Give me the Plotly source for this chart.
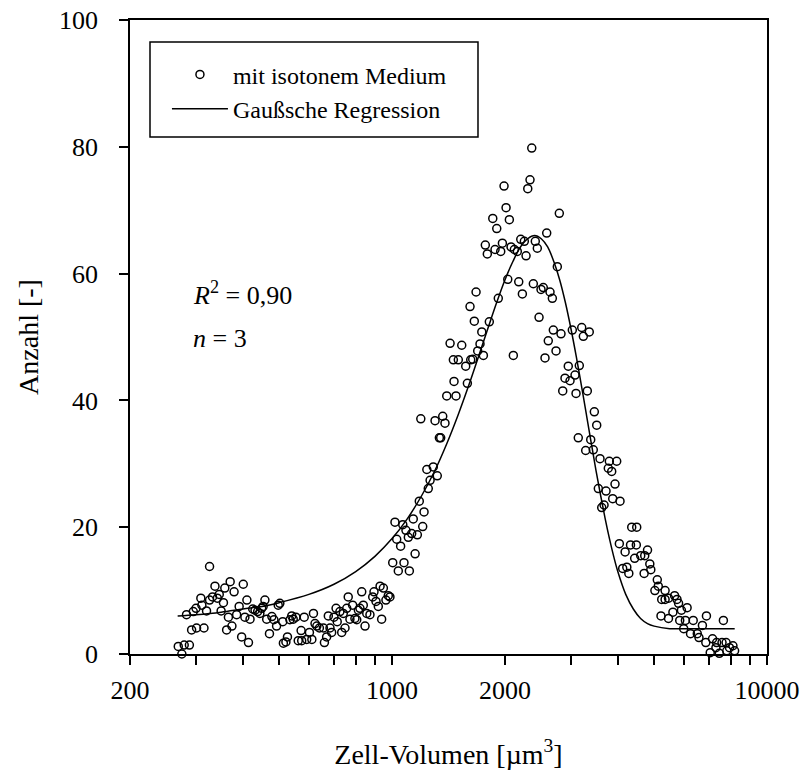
import plotly.graph_objects as go

# ---- scatter data: Zell-Volumen [µm^3] vs Anzahl [-] ----
volumen = [
    269, 275, 279, 288, 283, 292, 301, 315, 295, 300,
    309, 311, 320, 326, 332, 337, 342, 346, 350, 355,
    358, 370, 379, 326, 362, 374, 366, 385, 391, 397,
    401, 410, 405, 418, 414, 425, 431, 438, 444, 449,
    458, 453, 463, 471, 478, 484, 492, 497, 502, 511,
    513, 521, 526, 534, 540, 545, 554, 562, 572, 574,
    583, 592, 602, 611, 617, 623, 630, 640, 656, 660,
    669, 676, 683, 690, 700, 709, 714, 726, 734, 741,
    749, 757, 764, 772, 785, 796, 805, 813, 821, 830,
    838, 847, 856, 873, 888, 895, 906, 919, 929, 938,
    948, 963, 977, 987,
    1193, 1302, 1365, 1384, 1337, 1348, 1238, 1288, 1320, 1263,
    1249, 1182, 1217, 1018, 1068, 1139, 1089, 1128, 1168, 1207,
    1105, 1029, 1054, 1152, 1004, 1076, 1039, 1112, 1463, 1588,
    1399, 1481,
    2358, 2333, 2301, 1989, 2014, 1856, 2055, 1902, 2793, 2585,
    2204, 2253, 2410, 2440, 1773, 1795, 1882, 1949, 1969, 2076,
    2119, 2158, 2277, 2759, 2035, 2177, 2381, 2226, 2496, 2531,
    2638, 2676, 1675, 1920, 2466, 1657, 1817, 1735, 2692, 2822,
    3025, 2610, 1716, 1692, 1752, 1641, 2106, 2737, 2558, 2951,
    3076, 2892, 1614, 1428, 1457, 1502, 1534, 1572, 1621,
    3205, 3237, 3357, 3158, 2983, 2852, 3095, 3317, 3463, 3514,
    3138, 3387, 3284, 3441, 3586, 3797, 3973, 3773, 3853, 3932,
    3549, 3721, 3877, 4055, 3676, 3624, 4357, 4493, 4038, 4325,
    4482, 4184, 4801, 4436, 4605, 4719, 4122, 4228, 4280, 4869,
    4899, 4702, 5098, 5129, 5023, 5238, 5348, 5461, 5670, 5754,
    5348, 5810, 5912, 6122, 5215, 5461, 5611, 5851, 6059, 6356,
    6894, 7650, 5996, 6252, 6517, 6725, 6585, 6868, 7157, 7339,
    7586, 7779, 7943, 8112, 8196, 7307, 7056, 7461, 7813,
]
anzahl = [
    1.2, 0.0, 1.4, 1.4, 6.2, 3.8, 4.1, 4.1, 6.7, 7.2,
    8.8, 7.7, 6.8, 8.5, 9.0, 10.7, 8.8, 9.4, 6.8, 8.1,
    10.4, 11.4, 9.8, 13.8, 3.8, 4.4, 5.8, 6.2, 7.5, 2.7,
    11.0, 8.5, 5.8, 5.5, 1.8, 7.1, 6.9, 6.7, 6.4, 7.2,
    8.5, 7.5, 5.5, 3.2, 5.9, 5.4, 4.4, 7.7, 8.0, 5.1,
    1.7, 1.9, 2.7, 5.4, 6.0, 5.5, 5.8, 2.1, 3.7, 2.1,
    5.8, 2.3, 3.4, 2.3, 6.4, 4.8, 4.4, 4.1, 4.1, 1.8,
    2.7, 6.0, 4.1, 3.4, 5.8, 7.2, 5.1, 6.7, 3.4, 6.4,
    4.1, 7.2, 9.0, 5.5, 7.7, 5.6, 5.4, 6.9, 7.2, 9.8,
    7.7, 4.4, 6.4, 6.2, 9.0, 9.8, 8.3, 7.5, 10.7, 5.5,
    10.4, 8.5, 9.2, 9.0,
    37.1, 36.8, 37.5, 36.4, 34.1, 34.1, 29.1, 29.5, 28.1, 27.4,
    26.1, 24.1, 22.4, 20.8, 20.4, 21.3, 19.5, 19.0, 18.8, 20.1,
    18.4, 18.1, 17.0, 15.8, 14.4, 14.4, 13.1, 13.1, 43.0, 42.7,
    40.7, 40.7,
    79.8, 74.8, 73.4, 73.8, 70.4, 68.7, 68.5, 67.1, 69.5, 66.4,
    65.4, 65.1, 65.1, 64.0, 64.5, 63.1, 63.8, 63.5, 64.8, 64.2,
    63.8, 63.5, 62.8, 61.1, 59.1, 58.7, 58.4, 56.8, 57.5, 57.8,
    57.1, 56.1, 57.1, 56.1, 53.1, 52.5, 52.4, 50.8, 51.1, 50.5,
    51.1, 49.4, 48.9, 47.8, 47.1, 46.5, 47.1, 47.8, 46.7, 45.4,
    44.0, 43.5, 54.8, 49.0, 46.4, 46.4, 48.7, 45.4, 46.4,
    51.5, 50.1, 50.8, 45.5, 43.1, 41.5, 41.1, 41.5, 38.2, 36.1,
    34.1, 33.8, 32.1, 32.2, 30.8, 30.4, 30.4, 29.3, 28.8, 26.8,
    26.1, 25.7, 24.5, 24.1, 23.5, 23.1, 20.0, 20.0, 17.4, 17.2,
    17.2, 16.1, 16.4, 15.1, 15.5, 15.5, 13.5, 13.7, 12.7, 14.2,
    13.3, 12.7, 11.7, 10.7, 10.0, 8.6, 10.0, 8.8, 9.2, 8.6,
    8.6, 8.0, 6.9, 7.3, 6.0, 5.6, 6.6, 5.3, 5.3, 5.3,
    6.0, 5.3, 4.0, 3.2, 3.2, 4.5, 2.6, 1.8, 2.4, 1.8,
    1.8, 1.8, 1.0, 1.3, 0.5, 1.0, 0.2, 0.1, 0.5,
]

# ---- regression curve ----
kurve_x = [268, 300, 350, 400, 450, 500, 600, 700, 800, 900,
           1000, 1100, 1200, 1300, 1400, 1500, 1600, 1700, 1800, 1900,
           2000, 2100, 2200, 2300, 2400, 2500, 2600, 2700, 2800, 2900,
           3000, 3100, 3200, 3300, 3400, 3500, 3600, 3700, 3800, 3900,
           4000, 4200, 4400, 4600, 4800, 5000, 5500, 6000, 7000, 8200]
kurve_y = [6.0, 6.2, 6.6, 7.1, 7.5, 8.1, 9.4, 11.0, 13.0, 15.4,
           18.2, 21.4, 25.0, 28.9, 33.2, 37.7, 42.3, 46.9, 51.3, 55.4,
           59.0, 61.9, 64.2, 65.5, 66.0, 65.5, 64.2, 61.9, 59.0, 55.4,
           51.3, 46.9, 42.3, 37.7, 33.2, 28.9, 25.0, 21.4, 18.2, 15.4,
           13.0, 9.4, 7.1, 5.6, 4.8, 4.4, 4.0, 4.0, 4.0, 4.0]

x_tickvals = [200, 1000, 2000, 10000]
x_ticktext = ["200", "1000", "2000", "10000"]
x_minorvals = [300, 400, 500, 600, 700, 800, 900,
               3000, 4000, 5000, 6000, 7000, 8000, 9000]
y_tickvals = [0, 20, 40, 60, 80, 100]

FONT = "Liberation Serif, Times New Roman, serif"

fig = go.Figure()
fig.add_trace(go.Scatter(
    x=volumen, y=anzahl, mode="markers", name="mit isotonem Medium",
    marker=dict(symbol="circle-open", size=8, color="black",
                line=dict(width=1.5, color="black")),
    cliponaxis=False,
))
fig.add_trace(go.Scatter(
    x=kurve_x, y=kurve_y, mode="lines", name="Gaußsche Regression",
    line=dict(color="black", width=1.5, shape="spline"),
))

axis_common = dict(
    showline=True, linecolor="black", linewidth=1.5, mirror=True,
    ticks="outside", ticklen=9, tickwidth=1.5, tickcolor="black",
    showgrid=False, zeroline=False, automargin=False,
    tickfont=dict(family=FONT, size=26, color="black"),
)

fig.update_layout(
    width=803, height=773,
    margin=dict(l=130, r=36, t=20, b=119, autoexpand=False),
    paper_bgcolor="white", plot_bgcolor="white",
    font=dict(family=FONT, color="black"),
    xaxis=dict(
        type="log", range=[2.30103, 4.0],
        tickmode="array", tickvals=x_tickvals, ticktext=x_ticktext,
        minor=dict(tickmode="array", tickvals=x_minorvals, ticks="outside",
                   ticklen=9, tickwidth=1.5, tickcolor="black", showgrid=False),
        ticklabelstandoff=3,
        title=dict(text="Zell-Volumen [µm<sup>3</sup>]",
                   font=dict(family=FONT, size=28, color="black"),
                   standoff=40),
        **axis_common,
    ),
    yaxis=dict(
        range=[0, 100], tickmode="array", tickvals=y_tickvals,
        ticklabelstandoff=16,
        title=dict(text="Anzahl [-]",
                   font=dict(family=FONT, size=28, color="black"),
                   standoff=12),
        **axis_common,
    ),
    showlegend=True,
    legend=dict(
        x=0.058, y=0.949, xanchor="left", yanchor="top",
        bgcolor="rgba(0,0,0,0)", borderwidth=0,
        font=dict(family=FONT, size=24, color="black"),
        itemwidth=56, tracegroupgap=0,
    ),
    shapes=[dict(type="rect", xref="paper", yref="paper",
                 x0=0.0314, x1=0.5463, y0=0.8155, y1=0.9653,
                 line=dict(color="black", width=1.5), fillcolor="rgba(0,0,0,0)")],
    annotations=[
        dict(text="<i>R</i><sup>2</sup> = 0,90", x=0.095, y=0.569,
             xref="paper", yref="paper", xanchor="left", yanchor="middle",
             showarrow=False, font=dict(family=FONT, size=26, color="black")),
        dict(text="<i>n</i> = 3", x=0.095, y=0.497,
             xref="paper", yref="paper", xanchor="left", yanchor="middle",
             showarrow=False, font=dict(family=FONT, size=26, color="black")),
    ],
)

fig.write_html(
    "out.html",
    config={"displayModeBar": False},
    post_script="document.body.style.margin='0';document.body.style.overflow='hidden';",
)
